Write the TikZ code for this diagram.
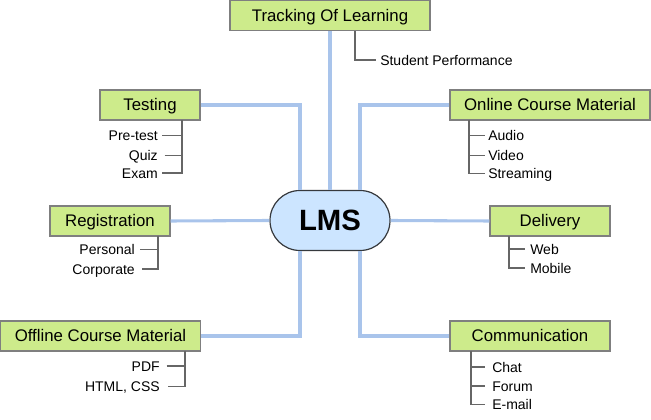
\documentclass[tikz,border=0pt]{standalone}
\usepackage{fontspec}
\setmainfont{Liberation Sans}
\definecolor{boxfill}{HTML}{CDEB8B}
\definecolor{boxline}{HTML}{7F7F7F}
\definecolor{hubfill}{HTML}{CCE5FF}
\definecolor{hubline}{HTML}{36393D}
\definecolor{link}{HTML}{A9C4EB}
\definecolor{twig}{HTML}{666666}
\begin{document}
\begin{tikzpicture}[x=0.75pt,y=-0.75pt,
  topic/.style={draw=boxline,line width=1.1pt,fill=boxfill,inner sep=0pt,
    text height=9pt,text depth=0pt,
    font=\fontsize{12.6}{14}\selectfont,text=black},
  hub/.style={draw=hubline,line width=0.9pt,fill=hubfill,rounded corners=22.5pt,
    minimum width=90pt,minimum height=45pt,inner sep=0pt,font=\fontsize{22}{24}\selectfont\bfseries},
  leafR/.style={anchor=west,inner sep=0pt,text height=7.6pt,text depth=0pt,font=\fontsize{10.5}{12}\selectfont},
  leafL/.style={anchor=east,inner sep=0pt,text height=7.6pt,text depth=0pt,font=\fontsize{10.5}{12}\selectfont},
  linkline/.style={draw=link,line width=2.3pt},
  twigline/.style={draw=twig,line width=1.1pt}]
\useasboundingbox (0,0) rectangle (651,420);

% main topics
\node[topic,minimum width=150pt,minimum height=22.5pt] (track) at (330,15.5) {Tracking Of Learning};
\node[topic,minimum width=75pt,minimum height=22.5pt] (test) at (150,105) {Testing};
\node[topic,minimum width=150pt,minimum height=22.5pt] (online) at (550,105) {Online Course Material};
\node[topic,minimum width=90pt,minimum height=22.5pt] (reg) at (110,221) {Registration};
\node[topic,minimum width=90pt,minimum height=22.5pt] (deliv) at (550,221) {Delivery};
\node[topic,minimum width=150pt,minimum height=22.5pt] (offline) at (100.5,336) {Offline Course Material};
\node[topic,minimum width=120pt,minimum height=22.5pt] (comm) at (530,336) {Communication};
\node[hub] (lms) at (330,220.5) {LMS};

% links to hub
\draw[linkline] (track.south) -- (lms.north);
\draw[linkline] (test.east) -| ([xshift=-22.5pt]lms.north);
\draw[linkline] (online.west) -| ([xshift=22.5pt]lms.north);
\draw[linkline] (reg.east) -- (lms.west);
\draw[linkline] (lms.east) -- (deliv.west);
\draw[linkline] (offline.east) -| ([xshift=-22.5pt]lms.south);
\draw[linkline] (comm.west) -| ([xshift=22.5pt]lms.south);

% leaves: Tracking
\node[leafR] (sp) at (380,60) {Student Performance};
\draw[twigline] ([xshift=18.75pt]track.south) |- ([xshift=-3pt]sp.west);

% leaves: Testing
\node[leafL] (pre) at (158,135.5) {Pre-test};
\node[leafL] (quiz) at (158,155.5) {Quiz};
\node[leafL] (exam) at (158,173) {Exam};
\coordinate (tt) at (182,120);
\draw[twigline] (tt) |- ([xshift=3pt]exam.east);
\draw[twigline] ([xshift=3pt]pre.east) -- (pre.east -| tt);
\draw[twigline] ([xshift=5pt]quiz.east) -- (quiz.east -| tt);

% leaves: Online
\node[leafR] (audio) at (488,135.5) {Audio};
\node[leafR] (video) at (488,155.5) {Video};
\node[leafR] (stream) at (488,173.5) {Streaming};
\coordinate (ot) at (469,120);
\draw[twigline] (ot) |- ([xshift=-2pt]stream.west);
\draw[twigline] (audio.west -| ot) -- ([xshift=-2pt]audio.west);
\draw[twigline] (video.west -| ot) -- ([xshift=-2pt]video.west);

% leaves: Registration
\node[leafL] (pers) at (135,249.5) {Personal};
\node[leafL] (corp) at (135,269) {Corporate};
\coordinate (rt) at (158,236);
\draw[twigline] (rt) |- ([xshift=5pt]corp.east);
\draw[twigline] ([xshift=4pt]pers.east) -- (pers.east -| rt);

% leaves: Delivery
\node[leafR] (web) at (530,249) {Web};
\node[leafR] (mob) at (530,268) {Mobile};
\coordinate (dt) at (509,236);
\draw[twigline] (dt) |- ([xshift=-4pt]mob.west);
\draw[twigline] (web.west -| dt) -- ([xshift=-4pt]web.west);

% leaves: Offline
\node[leafL] (pdf) at (160,366) {PDF};
\node[leafL] (html) at (160,386.5) {HTML, CSS};
\coordinate (ft) at (185,351);
\draw[twigline] (ft) |- ([xshift=6pt]html.east);
\draw[twigline] ([xshift=5pt]pdf.east) -- (pdf.east -| ft);

% leaves: Communication
\node[leafR] (chat) at (492,367) {Chat};
\node[leafR] (forum) at (492,386) {Forum};
\node[leafR] (mail) at (492,404.5) {E-mail};
\coordinate (ct) at (471,351);
\draw[twigline] (ct) |- ([xshift=-5pt]mail.west);
\draw[twigline] (chat.west -| ct) -- ([xshift=-5pt]chat.west);
\draw[twigline] (forum.west -| ct) -- ([xshift=-5pt]forum.west);
\end{tikzpicture}
\end{document}
